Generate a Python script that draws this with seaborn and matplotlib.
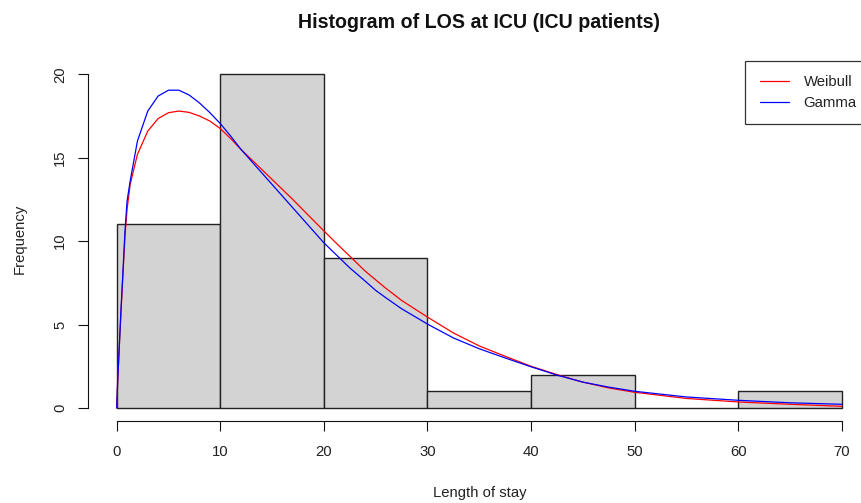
import numpy as np
import pandas as pd
import matplotlib
matplotlib.use("Agg")
import matplotlib.pyplot as plt
import seaborn as sns

# ---- data ----
bin_edges = [0, 10, 20, 30, 40, 50, 60, 70]
bin_left = [0, 10, 20, 30, 40, 50, 60]
counts = [11, 20, 9, 1, 2, 0, 1]

curve_x = [0, 0.1, 0.4, 0.8, 1.0, 1.3, 2, 3, 4, 5, 6, 7, 8, 9,
           10, 11, 12, 13, 14, 15, 16, 17, 18, 19, 20, 21, 22.5, 24, 25, 26,
           27.5, 29, 30, 32.5, 35, 37.5, 40, 42.5, 45, 47.5, 50, 55, 60, 65, 70]
weibull_y = [0, 1.7, 5.6, 10.3, 11.9, 13.4, 15.2, 16.6, 17.35, 17.7, 17.8, 17.72,
             17.5, 17.2,
             16.75, 16.15, 15.5, 14.9, 14.3, 13.7, 13.1, 12.5, 11.87, 11.24, 10.62,
             10.0, 9.1, 8.2, 7.68, 7.17, 6.45, 5.85, 5.45, 4.5, 3.72, 3.1, 2.5,
             2.0, 1.55, 1.2, 0.94, 0.57, 0.36, 0.22, 0.1]
gamma_y = [0, 1.7, 5.7, 10.6, 12.4, 13.6, 16.0, 17.8, 18.7, 19.05, 19.05, 18.76,
           18.28, 17.7,
           17.05, 16.3, 15.5, 14.8, 14.1, 13.4, 12.7, 12.0, 11.3, 10.6, 9.9,
           9.3, 8.4, 7.6, 7.05, 6.6, 5.95, 5.4, 5.03, 4.2, 3.55, 3.0, 2.47,
           1.97, 1.55, 1.25, 1.0, 0.66, 0.46, 0.31, 0.22]

title = "Histogram of LOS at ICU (ICU patients)"
xlabel = "Length of stay"
ylabel = "Frequency"
xticks = [0, 10, 20, 30, 40, 50, 60, 70]
yticks = [0, 5, 10, 15, 20]
legend_labels = ["Weibull", "Gamma"]

# ---- style ----
sns.set_theme(style="white")
plt.rcParams["font.family"] = ["Liberation Sans", "DejaVu Sans"]
FS = 10.7

W, H = 861, 503
fig = plt.figure(figsize=(W / 100, H / 100), dpi=100)
# plot region in pixels: x 87.7..870.7, y 61..421.3
ax = fig.add_axes([87.7 / W, 1 - 421.3 / H, 783 / W, 360.3 / H])

hist_df = pd.DataFrame({"x": bin_left, "w": counts})
sns.histplot(data=hist_df, x="x", weights="w", bins=bin_edges, ax=ax,
             color="#D3D3D3", edgecolor="#222222", linewidth=1.0, alpha=1.0,
             stat="count")

curve_df = pd.DataFrame({"x": curve_x, "weibull": weibull_y, "gamma": gamma_y})
sns.lineplot(data=curve_df, x="x", y="weibull", ax=ax, color="#FF0000",
             linewidth=0.9, estimator=None, sort=False, label=legend_labels[0])
sns.lineplot(data=curve_df, x="x", y="gamma", ax=ax, color="#0000FF",
             linewidth=0.9, estimator=None, sort=False, label=legend_labels[1])

ax.set_xlim(-2.8, 72.8)
ax.set_ylim(-0.8, 20.8)
ax.set_xlabel("")
ax.set_ylabel("")
ax.grid(False)

for s in ["top", "right"]:
    ax.spines[s].set_visible(False)
ax.spines["left"].set_bounds(0, 20)
ax.spines["bottom"].set_bounds(0, 70)
for s in ["left", "bottom"]:
    ax.spines[s].set_color("#111111")
    ax.spines[s].set_linewidth(0.8)

ax.set_xticks(xticks)
ax.set_yticks(yticks)
ax.set_xticklabels([str(v) for v in xticks])
ax.set_yticklabels([str(v) for v in yticks], rotation=90, va="center")
ax.tick_params(axis="x", direction="out", length=7.2, width=0.8, color="#111111",
               pad=10.0, labelsize=FS, labelcolor="#222222", bottom=True)
ax.tick_params(axis="y", direction="out", length=7.2, width=0.8, color="#111111",
               pad=7.5, labelsize=FS, labelcolor="#222222", left=True)

leg = ax.legend(loc="upper right", bbox_to_anchor=(1.0, 1.0), fontsize=FS,
                frameon=True, fancybox=False, shadow=False, borderaxespad=0.0,
                handlelength=2.0, handletextpad=0.95, labelspacing=0.48,
                borderpad=0.95)
leg.get_frame().set_edgecolor("#000000")
leg.get_frame().set_linewidth(0.9)
leg.get_frame().set_facecolor("white")
for t in leg.get_texts():
    t.set_color("#222222")

fig.text(479.5 / W, 1 - 22 / H, title, ha="center", va="center",
         fontsize=14.1, fontweight="bold", color="#111111")
fig.text(479.5 / W, 1 - 493 / H, xlabel, ha="center", va="center",
         fontsize=FS, color="#222222")
fig.text(20 / W, 1 - 239 / H, ylabel, ha="center", va="center",
         rotation=90, fontsize=FS, color="#222222")

fig.savefig("out.png", dpi=100)
